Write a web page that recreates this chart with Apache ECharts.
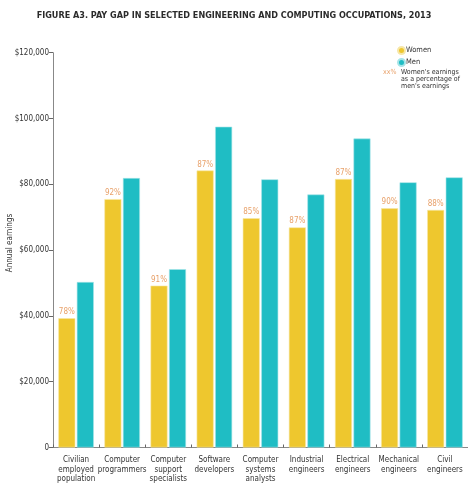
<!DOCTYPE html>
<html><head><meta charset="utf-8">
<script src="https://cdn.jsdelivr.net/npm/echarts@6/dist/echarts.min.js"></script>
<style>html,body{margin:0;padding:0;background:#fff}#c{width:468px;height:484px}</style>
</head><body><div id="c"></div>
<script>
const categories = ["Civilian\nemployed\npopulation","Computer\nprogrammers","Computer\nsupport\nspecialists","Software\ndevelopers","Computer\nsystems\nanalysts","Industrial\nengineers","Electrical\nengineers","Mechanical\nengineers","Civil\nengineers"];
const women = [39300, 75500, 49200, 84200, 69700, 66900, 81600, 72700, 72200];
const men = [50300, 81900, 54200, 97500, 81500, 76900, 93900, 80600, 82100];
const pctLabels = ["78%","92%","91%","87%","85%","87%","87%","90%","88%"];
const yTicks = [0, 20000, 40000, 60000, 80000, 100000, 120000];

const font = "'DejaVu Sans Condensed', 'DejaVu Sans', sans-serif";
const chart = echarts.init(document.getElementById('c'));
chart.setOption({
  animation: false,
  textStyle: {fontFamily: font},
  title: {
    text: "FIGURE A3. PAY GAP IN SELECTED ENGINEERING AND COMPUTING OCCUPATIONS, 2013",
    left: 'center', top: 6,
    textStyle: {fontSize: 9, fontWeight: 'bold', color: '#2b2b2b', fontFamily: font}
  },
  legend: {
    data: ['Women', 'Men'], orient: 'vertical', left: 392, top: 41,
    icon: 'circle', itemWidth: 7, itemHeight: 7, itemGap: 3,
    textStyle: {fontSize: 7.5, color: '#333', fontFamily: font, padding: [0,0,0,-4]}
  },
  graphic: [
    {type: 'text', left: 383, top: 69, style: {text: 'xx%', fontSize: 7, fill: '#e8a16a', fontFamily: font}},
    {type: 'text', left: 401, top: 69, style: {text: "Women's earnings\nas a percentage of\nmen's earnings", fontSize: 7, lineHeight: 6.8, fill: '#333', fontFamily: font}},
    {type: 'text', x: 10, y: 243, rotation: Math.PI/2, style: {text: 'Annual earnings', fontSize: 8, fill: '#333', fontFamily: font, align: 'center', verticalAlign: 'middle'}}
  ],
  grid: {left: 53, top: 52.7, width: 415, height: 395.5, containLabel: false},
  xAxis: {
    type: 'category', data: categories,
    axisLine: {lineStyle: {color: '#888', width: 1}},
    axisTick: {show: true, inside: true, length: 3, lineStyle: {color: '#666'}},
    axisLabel: {fontSize: 8, color: '#333', lineHeight: 9.5, margin: 8, interval: 0, fontFamily: font}
  },
  yAxis: {
    type: 'value', min: yTicks[0], max: yTicks[yTicks.length-1], interval: 20000,
    axisLine: {show: true, lineStyle: {color: '#888', width: 1}},
    axisTick: {show: true, length: 4, lineStyle: {color: '#666'}},
    splitLine: {show: false},
    axisLabel: {fontSize: 8, color: '#333', margin: 4, fontFamily: font,
      formatter: v => v === 0 ? '0' : '$' + v.toLocaleString('en-US')}
  },
  series: [
    {name: 'Women', type: 'bar', data: women, barGap: '9%', barCategoryGap: '23%',
     itemStyle: {color: '#eec72e', borderColor: '#f7e7a8', borderWidth: 0.6},
     label: {show: true, position: 'top', distance: 2, fontSize: 8, color: '#e8a16a', fontFamily: font,
       formatter: p => pctLabels[p.dataIndex]}},
    {name: 'Men', type: 'bar', data: men,
     itemStyle: {color: '#1fbdc4', borderColor: '#a6e4e7', borderWidth: 0.6}}
  ]
});
</script></body></html>
